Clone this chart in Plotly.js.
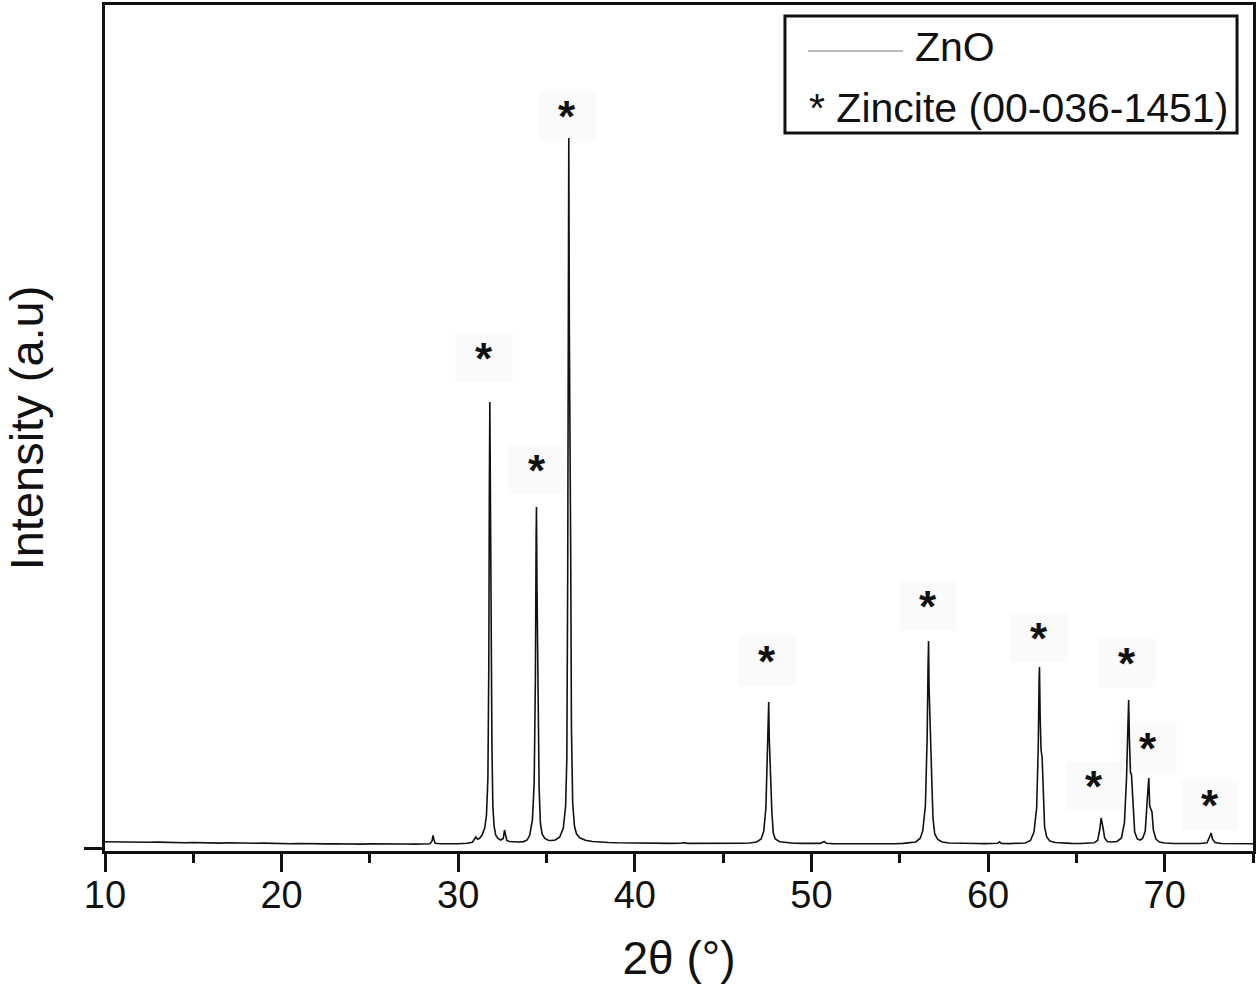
<!DOCTYPE html>
<html>
<head>
<meta charset="utf-8">
<script src="https://cdn.plot.ly/plotly-3.0.1.min.js"></script>
<style>
html,body{margin:0;padding:0;background:#fff;}
#chart{width:1258px;height:993px;}
</style>
</head>
<body>
<div id="chart"></div>
<script>
// 2θ positions (degrees) of the digitised ZnO pattern
const twoTheta = [
10.0,10.5,11.0,11.5,12.0,12.5,13.0,13.5,14.0,14.5,15.0,15.5,16.0,16.5,17.0,17.5,18.0,18.5,19.0,19.5,
20.0,20.5,21.0,21.5,22.0,22.5,23.0,23.5,24.0,24.5,25.0,25.5,26.0,26.5,27.0,27.5,28.0,28.4,28.52,28.57,
28.62,28.7,29.0,29.5,30.0,30.5,30.8,31.0,31.08,31.2,31.35,31.5,31.6,31.68,31.73,31.76,31.79,31.82,31.85,31.88,
31.91,31.96,32.03,32.12,32.25,32.4,32.55,32.62,32.67,32.75,32.9,33.1,33.4,33.7,33.9,34.05,34.2,34.3,34.37,34.41,
34.43,34.46,34.5,34.53,34.58,34.65,34.75,34.9,35.1,35.3,35.5,35.75,35.95,36.08,36.15,36.2,36.24,36.26,36.29,36.33,
36.37,36.41,36.48,36.58,36.7,36.9,37.2,37.6,38.0,38.5,39.0,39.5,40.0,40.5,41.0,41.5,42.0,42.5,42.8,43.0,
43.5,44.0,44.5,45.0,45.5,46.0,46.5,46.9,47.15,47.3,47.42,47.5,47.55,47.58,47.61,47.66,47.71,47.76,47.84,47.95,
48.2,48.6,49.0,49.5,50.0,50.5,50.72,50.85,51.2,51.7,52.2,52.7,53.2,53.7,54.2,54.7,55.2,55.6,55.9,56.15,
56.3,56.45,56.55,56.6,56.63,56.66,56.71,56.76,56.81,56.88,56.98,57.15,57.4,57.8,58.3,58.8,59.3,59.8,60.3,60.55,
60.65,60.75,61.2,61.7,62.1,62.4,62.6,62.75,62.84,62.89,62.91,62.95,63.0,63.06,63.12,63.2,63.32,63.5,63.8,64.2,
64.7,65.2,65.7,66.0,66.2,66.32,66.4,66.47,66.53,66.6,66.75,67.0,67.3,67.55,67.72,67.84,67.92,67.96,68.0,68.06,
68.12,68.2,68.3,68.45,68.6,68.75,68.9,69.0,69.06,69.1,69.15,69.22,69.28,69.36,69.5,69.7,70.0,70.5,71.0,71.5,
72.0,72.4,72.55,72.63,72.7,72.85,73.2,73.7,74.2,74.6,75.0
];
// intensity (arbitrary units)
const intensity = [
62,60,63,58,60,57,59,55,56,52,55,51,53,49,52,48,50,47,49,45,
47,43,45,42,44,41,43,40,42,39,41,39,41,38,40,39,41,42,70,125,
85,48,42,41,43,47,58,110,90,95,130,200,330,700,1800,3500,4460,3600,2500,2300,
1000,420,220,130,95,80,95,180,120,75,65,62,60,64,80,130,280,650,1700,3100,
3410,2600,2000,1600,600,250,140,95,78,75,80,110,200,420,900,2800,6200,7100,5200,3100,
2900,1200,450,220,140,100,78,65,58,55,52,50,49,48,47,48,46,47,52,46,
45,46,44,46,45,47,50,60,90,170,400,950,1300,1460,1100,760,700,350,150,90,
62,52,48,46,45,46,65,47,44,43,45,43,44,42,44,43,46,50,60,95,
170,420,1100,1800,2070,1600,1200,1100,700,300,140,85,60,50,46,44,45,44,45,48,
62,46,44,45,50,75,160,400,1000,1700,1810,1300,980,910,500,210,110,70,55,48,
46,45,47,52,75,180,300,210,180,100,65,60,65,100,250,700,1300,1480,1100,760,
730,400,160,90,80,95,170,450,650,700,420,380,360,180,90,60,50,45,44,43,
45,52,110,150,90,55,45,44,43,44,43
];
// Zincite (00-036-1451) peak markers
const markerX = [31.45, 34.45, 36.15, 47.47, 56.58, 62.86, 66.02, 67.84, 69.03, 72.59];
const markerY = [4900, 3780, 7320, 1870, 2420, 2100, 620, 1850, 1000, 430];
const markerText = "*";
// axis ticks
const xTickVals = [10, 20, 30, 40, 50, 60, 70];
const xTickText = ["10", "20", "30", "40", "50", "60", "70"];
const yTickVals = [0];

const seriesName = "ZnO";
const refName = "* Zincite (00-036-1451)";
const xTitle = "2θ (°)";
const yTitle = "Intensity (a.u)";

const FONT = "Liberation Sans, Arial, Helvetica, sans-serif";

const trace = {
  x: twoTheta, y: intensity, type: "scatter", mode: "lines",
  name: seriesName,
  line: {color: "#111111", width: 1.6},
  showlegend: false, hoverinfo: "skip"
};

const annotations = markerX.map((x, i) => ({
  x: x, y: markerY[i], xref: "x", yref: "y",
  text: "<b>" + markerText + "</b>", showarrow: false,
  font: {family: FONT, size: 44, color: "#111"},
  bgcolor: "rgba(0,0,0,0.018)", width: 54, height: 46,
  xanchor: "center", yanchor: "middle"
}));

// legend drawn with shapes + text
annotations.push({
  xref: "paper", yref: "paper", x: 0.7037, y: 0.950,
  xanchor: "left", yanchor: "middle", showarrow: false,
  text: seriesName, font: {family: FONT, size: 41, color: "#111"}
});
annotations.push({
  xref: "paper", yref: "paper", x: 0.6115, y: 0.878,
  xanchor: "left", yanchor: "middle", showarrow: false,
  text: refName, font: {family: FONT, size: 41, color: "#111"}
});

const shapes = [
  {type: "rect", xref: "paper", yref: "paper", x0: 0.5923, x1: 0.9861, y0: 0.8487, y1: 0.987,
   line: {color: "#111", width: 3}, fillcolor: "rgba(0,0,0,0)"},
  {type: "line", xref: "paper", yref: "paper", x0: 0.6124, x1: 0.6951, y0: 0.9456, y1: 0.9456,
   line: {color: "#bbbbbb", width: 2}}
];

const layout = {
  width: 1258, height: 993,
  margin: {l: 105, r: 5, t: 5, b: 142},
  paper_bgcolor: "#ffffff", plot_bgcolor: "#ffffff",
  font: {family: FONT, color: "#111"},
  showlegend: false,
  xaxis: {
    range: [10, 75], tickvals: xTickVals, ticktext: xTickText,
    ticks: "outside", ticklen: 18, tickwidth: 3, tickcolor: "#111",
    ticklabelstandoff: -10,
    minor: {dtick: 5, tick0: 10, ticks: "outside", ticklen: 9, tickwidth: 3, tickcolor: "#111", showgrid: false},
    showline: true, linewidth: 3, linecolor: "#111", mirror: true,
    showgrid: false, zeroline: false,
    tickfont: {family: FONT, size: 38, color: "#111"},
    title: {text: xTitle, font: {family: FONT, size: 46, color: "#111"}, standoff: 28}
  },
  yaxis: {
    range: [-30, 8430], tickvals: yTickVals, showticklabels: false,
    ticks: "outside", ticklen: 18, tickwidth: 3, tickcolor: "#111",
    showline: true, linewidth: 3, linecolor: "#111", mirror: true,
    showgrid: false, zeroline: false,
    title: {text: yTitle, font: {family: FONT, size: 47, color: "#111"}, standoff: 28}
  },
  annotations: annotations,
  shapes: shapes
};

Plotly.newPlot("chart", [trace], layout, {staticPlot: true, displayModeBar: false});
</script>
</body>
</html>
